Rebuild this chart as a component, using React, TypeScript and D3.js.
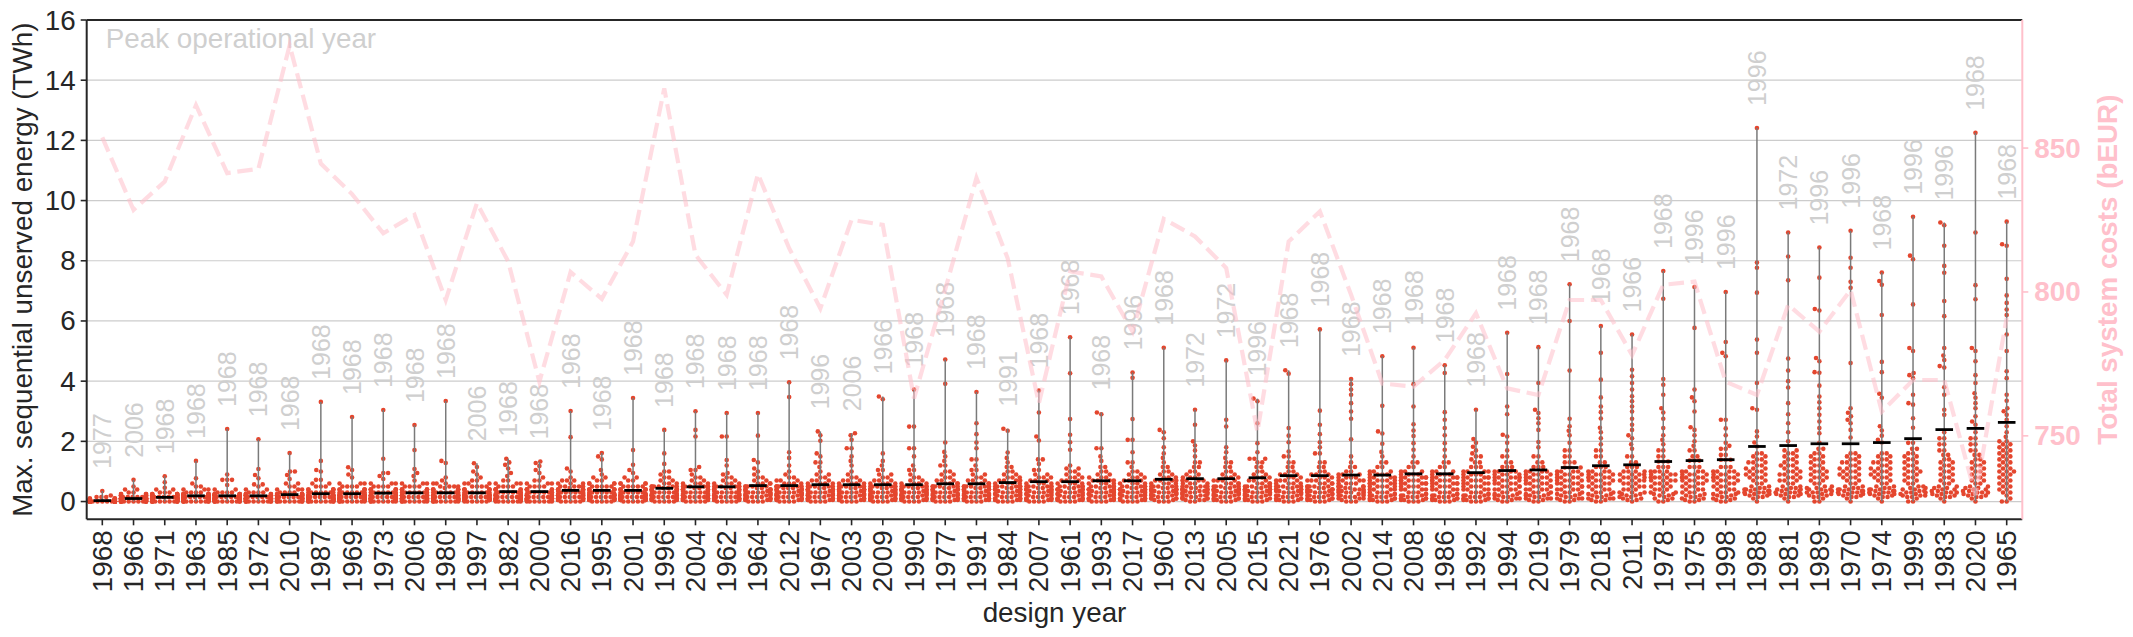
import React from "react";
import * as d3 from "d3";

// ---------------- data ----------------
const designYears = ["1968","1966","1971","1963","1985","1972","2010","1987","1969","1973","2006","1980","1997","1982","2000","2016","1995","2001","1996","2004","1962","1964","2012","1967","2003","2009","1990","1977","1991","1984","2007","1961","1993","2017","1960","2013","2005","2015","2021","1976","2002","2014","2008","1986","1992","1994","2019","1979","2018","2011","1978","1975","1998","1988","1981","1989","1970","1974","1999","1983","2020","1965"];

const peakYears = ["1977","2006","1968","1968","1968","1968","1968","1968","1968","1968","1968","1968","2006","1968","1968","1968","1968","1968","1968","1968","1968","1968","1968","1996","2006","1966","1968","1968","1968","1991","1968","1968","1968","1996","1968","1972","1972","1996","1968","1968","1968","1968","1968","1968","1968","1968","1968","1968","1968","1966","1968","1996","1996","1996","1972","1996","1996","1968","1996","1996","1968","1968"];

// black marker per design year (TWh)
const markerValues = [0.03,0.1,0.14,0.19,0.19,0.19,0.23,0.26,0.26,0.28,0.29,0.29,0.29,0.33,0.33,0.37,0.37,0.37,0.44,0.49,0.49,0.53,0.53,0.56,0.56,0.56,0.56,0.59,0.59,0.63,0.66,0.66,0.69,0.69,0.74,0.76,0.76,0.79,0.86,0.86,0.88,0.88,0.92,0.92,0.96,1.03,1.05,1.13,1.19,1.22,1.33,1.36,1.39,1.83,1.86,1.92,1.92,1.96,2.09,2.39,2.43,2.63];

// total system costs (bEUR), right axis
const totalCosts = [853.7,828.5,838.4,864.9,841.3,842.8,885.7,844.6,834,820.4,826.8,797.2,830.9,810.6,768.8,806.9,797.6,817.5,870.7,812.9,799,841,815.2,794.3,825.1,823.3,763,800.9,839.6,811.7,761.3,807.1,805.4,786.2,825.4,819.3,808.3,751.4,817.5,828,799,768.2,767.1,776.4,792.6,766.5,764.2,797.2,797.2,778.1,802.5,803.6,768.8,764.2,795.5,786.2,800.7,758.4,769.4,769.4,729.4,791];

// unserved energy per operational year (TWh); "v" or "vxN" = value v repeated N times
const unservedSamples = [
  "0x30 .03x14 .06x8 .1x5 .15x3 .2 .35",
  "0x14 .05x12 .1x12 .15x8 .2x6 .25x4 .3x2 .4x2 .5 .72",
  "0x12 .05x10 .1x10 .15x10 .2x7 .25x5 .3x3 .4x2 .46 .64 .84",
  "0x10 .05x9 .1x9 .15x8 .2x8 .25x6 .3x4 .4x3 .5x2 .6 .77 1.35",
  "0x10 .05x9 .1x9 .15x8 .2x8 .25x6 .3x4 .4x2 .55 .72x3 .9 2.41",
  "0x10 .05x9 .1x9 .15x8 .2x8 .25x5 .3x4 .4x2 .5 .57x2 .77 .88 1.08 2.07",
  "0x9 .05x7 .1x8 .15x8 .2x8 .25x6 .3x4 .4x3 .5x2 .6x2 .75 .88 1x2 1.61",
  "0x9 .05x8 .1x8 .15x7 .2x7 .3x7 .4x5 .5x3 .6x2 .72x2 1 1.05 1.35 3.31",
  "0x8 .05x7 .1x7 .15x7 .2x7 .25x2 .3x7 .4x5 .5x4 .6x3 .8 .9 1.05 1.14 2.81",
  "0x8 .05x7 .1x7 .15x7 .2x6 .25 .3x7 .4x6 .5x4 .6x3 .75 .85 .95x2 1.42 3.04",
  "0x8 .05x7 .1x7 .15x6 .2x7 .25 .3x7 .4x6 .5x4 .6x3 .7 .85 .95 1.08 1.71 2.54",
  "0x8 .05x7 .1x7 .15x6 .2x7 .25 .3x7 .4x6 .45 .5x4 .6x3 .7 .8 1.28 1.35 3.34",
  "0x6 .05x7 .1x7 .15x6 .2x7 .25x2 .3x7 .4x6 .5x4 .6x3 .7x2 .8 .9 1 1.15 1.27",
  "0x7 .05x7 .1x7 .15x6 .2x5 .25x2 .3x7 .4x6 .5x4 .6x3 .7x2 .85 .95 1.1 1.22 1.3 1.42",
  "0x7 .05x7 .1x7 .15x6 .2x5 .25x2 .3x7 .4x6 .5x4 .6x3 .7x2 .8 .95 1.05 1.18 1.28 1.33",
  "0x5 .05x5 .1x6 .15x6 .2x6 .25x3 .3x6 .35x2 .4x6 .45 .5x5 .6x3 .7x3 .8 1 1.1 2.14 3.01",
  "0x5 .05x6 .1x6 .15x6 .2x6 .25x3 .3x6 .4x6 .5x5 .6x4 .7x2 .8x2 .9 1.05 1.4 1.5 1.61",
  "0x5 .05x6 .1x6 .15x6 .2x6 .25x3 .3x6 .4x6 .5x5 .6x4 .7x2 .8x2 .95 1.05 1.22 1.71 3.44",
  "0x5 .05x5 .1x5 .15x5 .2x5 .25x3 .3x5 .35x2 .4x6 .45x2 .5x6 .6x3 .7x2 .8x2 .9 1x2 1.25 1.6 2.38",
  "0x5 .05x5 .1x5 .15x5 .2x4 .25x3 .3x5 .35x2 .4x5 .45x2 .5x6 .6x4 .7x2 .8x2 .9 1.05x2 1.15 2.16 2.38 3",
  "0x5 .05x5 .1x5 .15x5 .2x4 .25x3 .3x5 .35x2 .4x5 .45x2 .5x6 .6x4 .7x2 .8x2 .9 .95 1.2 1.38 2.16x2 2.94",
  "0x4 .05x4 .1x4 .15x4 .2x4 .25x3 .3x5 .35x2 .4x5 .45x2 .5x5 .6x4 .7x2 .8x2 .9 1 1.1 1.3 1.38 2.19 2.94",
  "0x4 .05x4 .1x4 .15x4 .2x4 .25x5 .3x5 .35x2 .4x5 .45x3 .5x6 .6x4 .7x3 .8x2 .9 1 1.2 1.45 1.64 3.47 3.96",
  "0x4 .05x4 .1x4 .15x4 .2x4 .25x3 .3x4 .35x3 .4x5 .45x2 .5x5 .6x4 .7x3 .8x2 .9x2 1 1.15 1.3x2 1.5 1.6 2.02 2.2 2.33",
  "0x4 .05x4 .1x4 .15x4 .2x4 .25x3 .3x4 .35x4 .4x5 .45x2 .5x5 .6x4 .7x3 .8x2 .9 1 1.2 1.35 1.5 1.77x2 2.05 2.2 2.27",
  "0x4 .05x4 .1x4 .15x4 .2x4 .25x3 .3x5 .35x3 .4x5 .45x2 .5x6 .6x4 .7x3 .8x2 .9x2 1.05x2 1.2 1.35 1.6 3.4 3.49",
  "0x4 .05x4 .1x4 .15x4 .2x4 .25x3 .3x5 .35x3 .4x5 .45x2 .5x6 .6x4 .7x2 .8x2 .9 1.05x2 1.2 1.5 1.77x2 2.49x2 3.72",
  "0x4 .05x4 .1x4 .15x4 .2x3 .25x3 .3x4 .35x2 .4x5 .45x2 .5x6 .6x4 .7x3 .8x2 .9x2 1x2 1.2x2 1.35 1.5 1.65 1.96 3.91 4.72",
  "0x4 .05x4 .1x4 .15x4 .2x3 .25x3 .3x4 .35x2 .4x5 .45x2 .5x6 .6x4 .7x3 .8x2 .9x2 1.05x2 1.2 1.4x2 1.77 1.96 2.24 2.6 3.64",
  "0x4 .05x4 .1x4 .15x3 .2x3 .25x3 .3x4 .35x2 .4x5 .45x2 .5x6 .6x4 .7x4 .8x3 .9x2 1x2 1.15x2 1.3 1.45 1.63 2.35 2.42",
  "0x4 .05x4 .1x4 .15x3 .2x3 .25x3 .3x4 .35x3 .4x5 .45x2 .5x6 .6x4 .7x3 .8x3 .9x2 1.05x2 1.25 1.4x2 2.03 2.16 2.96 3.69",
  "0x4 .05x4 .1x4 .15x3 .2x3 .25x3 .3x4 .35x2 .4x5 .45x2 .5x5 .6x4 .7x3 .8x3 .9x2 1x2 1.1x2 1.2 1.72 1.97 2.22 2.74 4.26 5.46",
  "0x4 .05x3 .1x4 .15x3 .2x3 .25x3 .3x4 .35x3 .4x5 .45x2 .5x5 .6x4 .7x4 .8x3 .9x2 1x2 1.15x2 1.35 1.5 1.77x2 2.9 2.96",
  "0x4 .05x3 .1x4 .15x3 .2x3 .25x3 .3x4 .35x3 .4x5 .45x2 .5x5 .6x4 .7x3 .8x3 .9x2 1x2 1.15 1.3x2 1.64 2.05x2 2.74 4.11 4.29",
  "0x3 .05x2 .1x4 .15x3 .2x3 .25x3 .3x4 .35x3 .4x5 .45x2 .5x5 .6x4 .7x4 .8x3 .9x2 1x2 1.15x2 1.3 1.45 1.6 1.8 2.1 2.3 2.38 5.11",
  "0x2 .05x3 .1x4 .15x3 .2x3 .25x3 .3x4 .35x3 .4x5 .45x2 .5x5 .6x4 .7x4 .8x3 .9x2 1x2 1.15x2 1.3x2 1.5 1.7 1.86 2 2.55 3.05",
  "0x3 .05x3 .1x3 .15x3 .2x3 .25x3 .3x4 .35x3 .4x5 .45x2 .5x5 .6x4 .7x4 .8x3 .9x2 1x2 1.15x2 1.3x2 1.45 1.64 1.8 2.49 2.72 4.69",
  "0x3 .05x3 .1x2 .15x3 .2x3 .25x3 .3x4 .35x3 .4x5 .45x2 .5x5 .6x4 .7x3 .8x3 .9x2 1x2 1.15x2 1.3x2 1.42x3 1.64 1.94 2.6 3.33 3.42",
  "0x3 .05x3 .1x3 .15x3 .2x3 .25 .3x4 .35x3 .4x4 .45x2 .5x5 .6x4 .7x4 .8x3 .9x3 1x2 1.15x2 1.3x2 1.5x2 1.66 1.97 2.19 2.44 4.25 4.36",
  "0x3 .05x3 .1x3 .15x3 .2x3 .25x2 .3x4 .35x3 .4x4 .45x2 .5x5 .6x4 .7x4 .8x3 .9x3 1x2 1.15x2 1.3x2 1.6x2 1.8 1.97 2.24 2.55 3.02 5.72",
  "0x3 .05 .1x3 .15x3 .2x3 .25x2 .3x4 .35x3 .4x4 .45x2 .5x5 .6x4 .7x4 .8x4 .9x3 1x2 1.15x2 1.3 1.5 2.07 2.75 2.99 3.27 3.55 3.72 3.9 4.07",
  "0x3 .05x3 .1x3 .15x3 .2x3 .25x2 .3x4 .4x4 .5x5 .6x5 .7x5 .8x4 .9x4 1x3 1.15x2 1.3x2 1.5 1.65 1.92 2.26 2.33 3.18 4.83",
  "0x3 .05x3 .1x3 .15x3 .2x3 .25x2 .3x3 .4x4 .5x4 .6x5 .7x5 .8x5 .9x4 1x3 1.15x2 1.3x2 1.5 1.72 1.94 2.18 2.36 2.57 3.16 3.9 5.11",
  "0x3 .05x3 .1x3 .15x3 .2x3 .25x2 .3x3 .4x4 .5x4 .6x5 .7x5 .8x5 .9x4 1x3 1.15x2 1.3x2 1.5 1.72 1.94 2.2 2.44 2.72 2.97 4.27 4.53",
  "0x3 .05x3 .1x3 .15x3 .2x3 .25x2 .3x3 .4x4 .5x4 .6x4 .7x4 .8x5 .9x4 1x4 1.15x3 1.3x2 1.4 1.5x2 1.6 1.7 1.82 1.95 2.08 3.05",
  "0x2 .05x2 .1x3 .15x2 .2x3 .25x2 .3x3 .4x4 .5x4 .6x4 .7x4 .8x5 .9x4 1x4 1.15x3 1.3x2 1.5x2 1.7 1.95 2.16 2.22 2.9 3.16 4.24 5.61",
  "0x2 .05x2 .1x3 .15x2 .2x3 .25x2 .3x3 .4x4 .5x4 .6x4 .7x4 .8x4 .9x4 1x4 1.15x3 1.3x2 1.5x2 1.8 1.98 2.38 2.6 2.77 2.94 3.05 3.94 5.13",
  "0x2 .05x2 .1x3 .15x2 .2x2 .25x2 .3x3 .4x4 .5x4 .6x4 .7x4 .8x4 .9x4 1x4 1.13x3 1.3x3 1.5x2 1.7x2 1.95 2.2 2.35 2.5 2.75 4.35 6 7.22",
  "0x2 .05x2 .1x3 .15x2 .2x2 .25x2 .3x3 .4x3 .5x3 .6x3 .7x4 .8x4 .9x4 1x4 1.15x3 1.3x2 1.5x2 1.7x2 1.9 2.1 2.3 2.45 2.76 2.97 3.16 3.46 4.05 4.94 5.83",
  "0 .05x2 .1x2 .15x2 .2x2 .25x2 .3x3 .4x3 .5x3 .6x3 .7x4 .8x4 .9x4 1x4 1.15x3 1.3x2 1.5x2 1.75 1.9 2.1 2.2 2.38 2.55 2.75 2.99 3.16 3.33 3.5 3.72 3.94 4.16 4.38 5.55",
  "0x2 .05 .1x2 .15 .2x2 .25x2 .3x3 .4x3 .5x3 .6x3 .7x4 .8x4 .9x4 1x4 1.15x3 1.33x3 1.5x2 1.7x2 1.9 2.05 2.2 2.44 2.75 2.96 3.1 3.55 3.88 4.07 6.74 7.66",
  "0x2 .05x2 .1x2 .15x2 .2x2 .25 .3x3 .4x3 .5x3 .6x3 .7x4 .8x4 .9x4 1x4 1.15x3 1.36x3 1.5x2 1.7x2 1.85 2 2.2 2.38 2.47 2.99 3.33 3.46 3.72 5.77 7.13",
  "0x2 .05x2 .1x2 .15x2 .2x2 .25x2 .3x3 .4x3 .5x3 .6x3 .7x4 .8x4 .9x4 1x4 1.15x3 1.39x3 1.55x2 1.75x2 1.85 1.95 2.2 2.43 2.72x2 4.83 4.94 5.3 6.96",
  "0 .1 .15x2 .2x2 .25x3 .3x3 .35x3 .4x3 .45x2 .5x2 .6x2 .7x2 .8x3 .9x3 1x3 1.1x3 1.2x2 1.3x3 1.4x2 1.5x2 1.6x2 1.83 1.96 2.16 2.33 3.05 3.1 3.94 4.94 5.38 6.94 7.77 7.94 12.41",
  "0 .1 .15x2 .2x2 .25x3 .3x3 .35x2 .4x3 .45x2 .5x2 .6x2 .7x3 .8x3 .9x3 1x3 1.1x2 1.2x3 1.3x2 1.4x2 1.5x2 1.6x2 1.7x2 2 2.3 2.6 2.9 3.27 3.79 4 4.35 4.75 7.35 8.14 8.94",
  "0x2 .1 .15x2 .2x2 .25x2 .3x3 .35x2 .4x3 .45x2 .5x2 .6x2 .7x2 .8x3 .9x2 1x3 1.1x2 1.2x2 1.3x2 1.4x2 1.5x2 1.6x2 1.75x2 1.95 2.27 2.44 2.66 2.88 3.1 3.3 3.49 3.85 4.28 4.3 4.66 4.77 6.35 6.4 7.44 8.44",
  "0 .1 .15x2 .2x2 .25x3 .3x3 .35x3 .4x3 .45x2 .5x2 .6x2 .7x2 .8x3 .9x3 1x3 1.1x3 1.2x2 1.3x3 1.4x2 1.5x2 1.6x2 2.13 2.38 2.6 2.72 2.83 2.95 3.1 4.6 7.1 7.3 7.77 8.1 9",
  "0 .1 .15x2 .2x2 .25x3 .3x3 .35x3 .4x3 .45x2 .5x2 .6x2 .7x2 .8x3 .9x3 1x3 1.1x3 1.2x2 1.3x3 1.4x2 1.5x2 1.6x2 1.96 2.05 2.19 2.36 2.5 3.45 3.58 4.3 4.64 6.2 7.2 7.33 7.61",
  "0x2 .1 .15x2 .2x3 .25x2 .3x3 .35x2 .4x2 .45x2 .5x2 .6x2 .7x2 .8x2 .9x2 1x3 1.1x2 1.2x2 1.3x2 1.4x2 1.5x2 1.6x2 1.75x2 1.95x2 2.45 2.77 3.22 3.27 3.55 4.1 4.2 4.27 5 5.1 6.55 8.05 8.17 9.46",
  "0 .1 .15x2 .2x2 .25x2 .3x3 .35x2 .4x2 .45x2 .5x2 .6x2 .7x2 .8x2 .9x2 1x2 1.1x2 1.2x2 1.3x2 1.4x2 1.55x2 1.7x2 1.9x2 2.1x2 2.3 2.88 3.05 3.55 3.8 4.45 4.5 4.7 4.85 5.1 6.16 6.66 7.6 7.83 8.5 9.18 9.27",
  "0 .1 .15x2 .2x2 .25x2 .3x3 .35x2 .4x2 .45x2 .5x2 .6x2 .7x2 .8x2 .9x2 1x2 1.1x2 1.2x2 1.3x2 1.4x2 1.55x2 1.7x2 1.9x2 2.1x2 2.3 2.55 2.66 2.83 3.1 3.27 3.45 3.6 3.94 4.2 4.66 5 5.1 6.72 7.19 8.94 12.25",
  "0x2 .1 .2 .3x2 .4x2 .5x2 .6x2 .7x2 .8x2 .9x2 1x3 1.1x2 1.2x2 1.3x2 1.4x2 1.5x2 1.6x2 1.7x2 1.8x2 1.9x2 2x2 2.15 2.3 2.5 2.72 2.88 3 3.1 3.35 3.55 4.1 4.33 5 5.55 6.2 6.38 6.6 6.85 7.4 8.5 8.55 9.3"
];

const leftTicks = [0, 2, 4, 6, 8, 10, 12, 14, 16];
const rightTicks = [750, 800, 850];

// ---------------- helpers ----------------
function parseSamples(s: string): number[] {
  const out: number[] = [];
  s.trim().split(/\s+/).forEach((tok) => {
    const [v, c] = tok.split("x");
    const n = c ? parseInt(c, 10) : 1;
    for (let i = 0; i < n; i++) out.push(parseFloat(v));
  });
  return out;
}

function beeswarm(pys: number[], r: number, half: number): number[] {
  const d = 2 * r;
  const order = pys.map((_, i) => i).sort((a, b) => pys[b] - pys[a]);
  const placed: { x: number; y: number }[] = [];
  const xs: number[] = new Array(pys.length).fill(0);
  for (const i of order) {
    const y = pys[i];
    const neigh = placed.filter((p) => Math.abs(p.y - y) < d);
    const cands = [0];
    for (const p of neigh) {
      const dy = y - p.y;
      const dx = Math.sqrt(Math.max(d * d - dy * dy, 0)) * 1.05;
      cands.push(p.x - dx, p.x + dx);
    }
    cands.sort((a, b) => Math.abs(a) - Math.abs(b));
    let chosen = cands[0];
    for (const c of cands) {
      if (neigh.every((p) => (c - p.x) ** 2 + (y - p.y) ** 2 >= d * d * 0.999)) {
        chosen = c;
        break;
      }
    }
    placed.push({ x: chosen, y });
    xs[i] = Math.max(-half, Math.min(half, chosen));
  }
  return xs;
}

// ---------------- component ----------------
export default function App() {
  const W = 2133, H = 637;
  const L = 86.7, R = 2022.3, T = 20, B = 519.3;
  const font = "'Liberation Sans', Arial, Helvetica, sans-serif";
  const dark = "#262626";
  const pink = "#ffc0cb";
  const dotColor = "#e4462e";

  const x = d3.scaleBand<string>().domain(designYears).range([L, R]).padding(0);
  const bw = x.bandwidth();
  const cx = (d: string) => (x(d) as number) + bw / 2;
  const y = d3.scaleLinear().domain([-0.59, 16]).range([B, T]);
  const y2 = d3.scaleLinear().domain([721, 894.5]).range([B, T]);

  const r = 2.3;
  const half = bw * 0.4;

  const swarms = designYears.map((yr, k) => {
    const vals = parseSamples(unservedSamples[k]);
    const pys = vals.map((v) => y(v));
    const offs = beeswarm(pys, r, half);
    return {
      yr,
      c: cx(yr),
      pts: pys.map((py, i) => ({ px: cx(yr) + offs[i], py })),
      max: d3.max(vals) as number,
      min: d3.min(vals) as number,
    };
  });

  const costLine = d3
    .line<number>()
    .x((_, i) => cx(designYears[i]))
    .y((v) => y2(v))(totalCosts) as string;

  return (
    <svg
      width={W}
      height={H}
      style={{ position: "absolute", left: 0, top: 0, background: "#fff" }}
      fontFamily={font}
    >
      <rect x={0} y={0} width={W} height={H} fill="#fff" />
      {/* grid */}
      {leftTicks.map((t) => (
        <line key={"g" + t} x1={L} x2={R} y1={y(t)} y2={y(t)} stroke="#cccccc" strokeWidth={1.2} />
      ))}

      {/* Peak operational year note */}
      <text x={105.7} y={48.3} fontSize={27.8} fill="#cfcfcf">
        Peak operational year
      </text>

      {/* swarms */}
      {swarms.map((s) => (
        <g key={"s" + s.yr}>
          {s.pts.map((p, i) => (
            <circle key={i} cx={p.px} cy={p.py} r={r} fill={dotColor} />
          ))}
        </g>
      ))}
      {/* range lines */}
      {swarms.map((s) => (
        <line key={"r" + s.yr} x1={s.c} x2={s.c} y1={y(s.min)} y2={y(s.max)} stroke="#7a7a7a" strokeWidth={1.5} />
      ))}
      {/* marker */}
      {designYears.map((yr, k) => (
        <line
          key={"m" + yr}
          x1={cx(yr) - 8.8}
          x2={cx(yr) + 8.8}
          y1={y(markerValues[k])}
          y2={y(markerValues[k])}
          stroke="#000"
          strokeWidth={2.8}
        />
      ))}
      {/* peak labels */}
      {swarms.map((s, k) => (
        <text
          key={"p" + s.yr}
          transform={`translate(${s.c},${y(s.max) - 22}) rotate(-90)`}
          textAnchor="start"
          dominantBaseline="central"
          fontSize={25}
          fill="#cfcfcf"
        >
          {peakYears[k]}
        </text>
      ))}

      {/* cost line (twin axis, on top) */}
      <path
        d={costLine}
        fill="none"
        stroke={pink}
        strokeOpacity={0.55}
        strokeWidth={4.2}
        strokeDasharray="15.5 6.7"
      />

      {/* spines */}
      <line x1={L} x2={L} y1={T} y2={B} stroke={dark} strokeWidth={2} />
      <line x1={L} x2={R} y1={T} y2={T} stroke={dark} strokeWidth={2} />
      <line x1={L} x2={R} y1={B} y2={B} stroke={dark} strokeWidth={2} />
      <line x1={R} x2={R} y1={T} y2={B} stroke={pink} strokeWidth={2} />

      {/* left axis */}
      {leftTicks.map((t) => (
        <g key={"lt" + t}>
          <line x1={L - 6} x2={L} y1={y(t)} y2={y(t)} stroke={dark} strokeWidth={1.6} />
          <text x={L - 11} y={y(t)} textAnchor="end" dominantBaseline="central" fontSize={27.8} fill={dark}>
            {t}
          </text>
        </g>
      ))}
      <text
        transform={`translate(22,${(T + B) / 2}) rotate(-90)`}
        textAnchor="middle"
        dominantBaseline="central"
        fontSize={27.8}
        fill={dark}
      >
        Max. sequential unserved energy (TWh)
      </text>

      {/* bottom axis */}
      {designYears.map((yr) => (
        <g key={"bt" + yr}>
          <line x1={cx(yr)} x2={cx(yr)} y1={B} y2={B + 6} stroke={dark} strokeWidth={1.6} />
          <text
            transform={`translate(${cx(yr)},${B + 11}) rotate(-90)`}
            textAnchor="end"
            dominantBaseline="central"
            fontSize={27.8}
            fill={dark}
          >
            {yr}
          </text>
        </g>
      ))}
      <text x={(L + R) / 2} y={622} textAnchor="middle" fontSize={27.8} fill={dark}>
        design year
      </text>

      {/* right axis */}
      {rightTicks.map((t) => (
        <g key={"rt" + t}>
          <line x1={R} x2={R + 6} y1={y2(t)} y2={y2(t)} stroke={pink} strokeWidth={1.6} />
          <text x={R + 12} y={y2(t)} dominantBaseline="central" fontSize={27.8} fontWeight="bold" fill={pink}>
            {t}
          </text>
        </g>
      ))}
      <text
        transform={`translate(2107,${(T + B) / 2}) rotate(-90)`}
        textAnchor="middle"
        dominantBaseline="central"
        fontSize={27.8}
        fontWeight="bold"
        fill={pink}
      >
        Total system costs (bEUR)
      </text>
    </svg>
  );
}
